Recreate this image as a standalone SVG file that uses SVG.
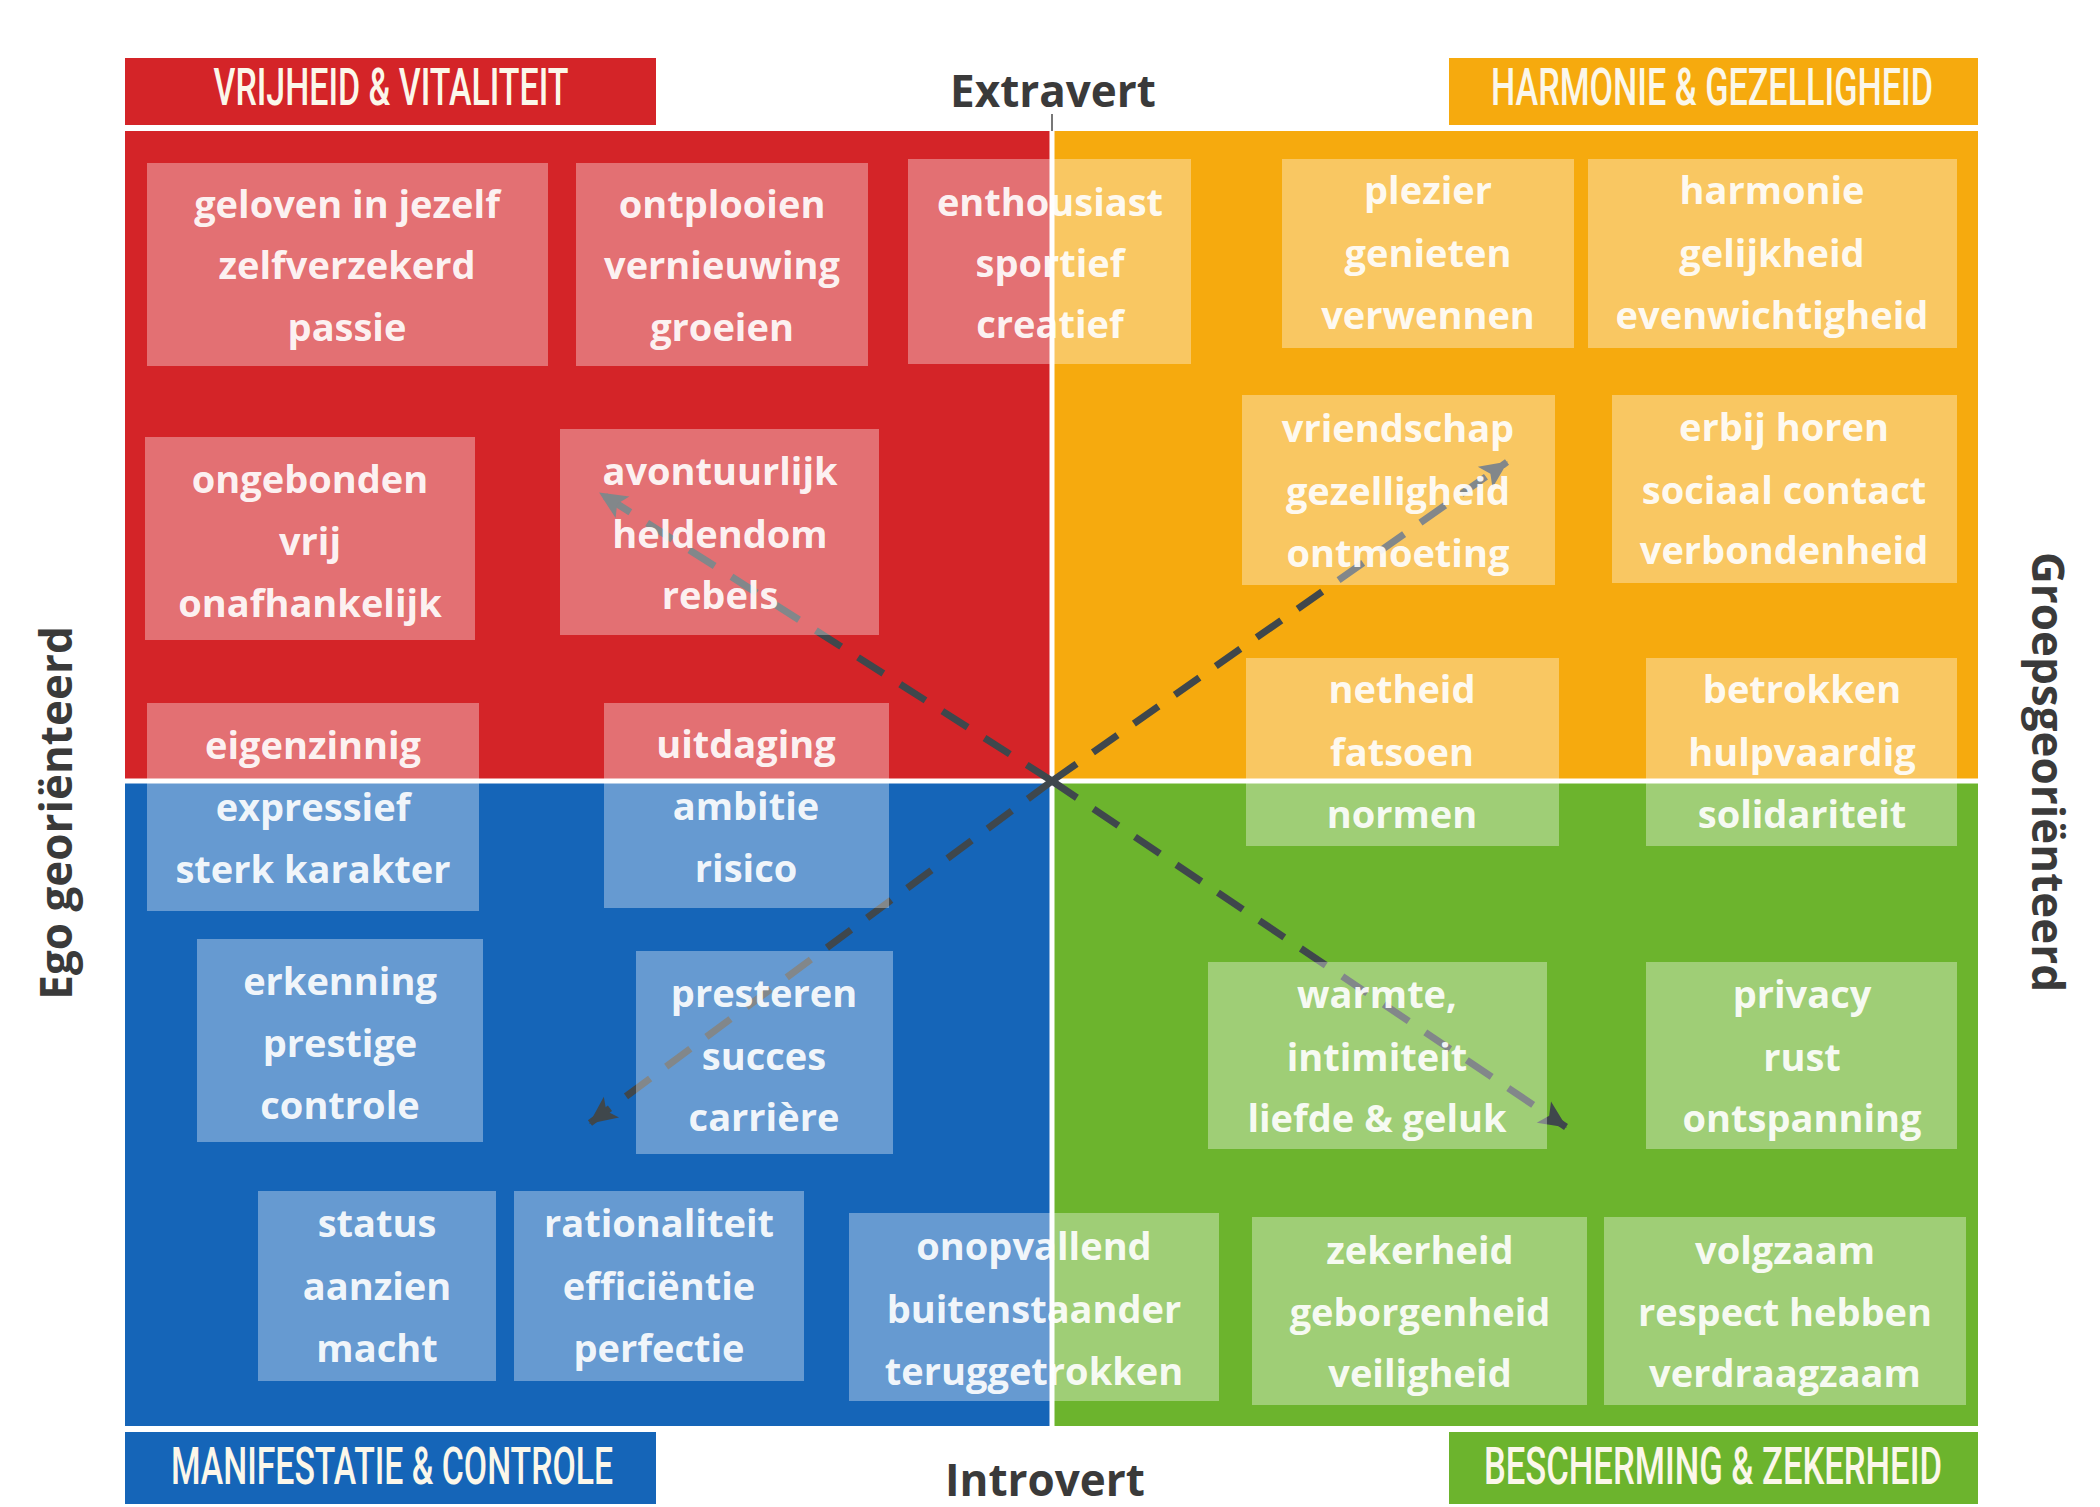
<svg xmlns="http://www.w3.org/2000/svg" width="2100" height="1507" viewBox="0 0 2100 1507">
<defs>
<style>
.bg{fill:#ffffff}
.red{fill:#d42428}
.org{fill:#f6aa0e}
.blu{fill:#1565b8}
.grn{fill:#6cb42d}
.box{fill:#ffffff;fill-opacity:0.35}
.nt{font-family:"Open Sans","Liberation Sans",sans-serif;font-weight:700;font-size:38px;fill:#ffffff;fill-opacity:0.93;text-anchor:middle}
.hd{font-family:Roboto,"Liberation Sans",sans-serif;font-weight:500;font-size:34px;fill:#fbf7ea;text-anchor:middle}
.ax{font-family:"Open Sans","Liberation Sans",sans-serif;font-weight:700;font-size:44px;fill:#3a3a3a;text-anchor:middle}
.ax2{font-family:"Open Sans","Liberation Sans",sans-serif;font-weight:700;font-size:44px;fill:#3a3a3a;text-anchor:middle}
.div{stroke:#ffffff;stroke-width:5;fill:none}
.arr{stroke:#3f474c;stroke-width:7;stroke-dasharray:30 20;fill:none;marker-end:url(#ah)}
</style>
<marker id="ah" viewBox="0 0 30 30" refX="27" refY="15" markerWidth="32" markerHeight="32" markerUnits="userSpaceOnUse" orient="auto">
<path d="M2,3 L28,15 L2,27 L8,15 Z" fill="#3f474c"/>
</marker>
</defs>
<rect class="bg" x="0" y="0" width="2100" height="1507"/>

<g id="quadrants">
<rect class="red" x="125" y="131" width="928" height="650"/>
<rect class="org" x="1053" y="131" width="925" height="650"/>
<rect class="blu" x="125" y="781" width="928" height="645"/>
<rect class="grn" x="1053" y="781" width="925" height="645"/>
<line class="div" x1="1052" y1="131" x2="1052" y2="1426"/>
<line class="div" x1="125" y1="781" x2="1978" y2="781"/>
<line x1="1052" y1="114" x2="1052" y2="131" stroke="#777" stroke-width="2"/>
</g>

<g id="header-vrijheid">
<rect class="red" x="125" y="58" width="531" height="67"/>
<text class="hd" transform="translate(391,105) scale(1,1.55)" x="0" y="0" textLength="355" lengthAdjust="spacingAndGlyphs">VRIJHEID &amp; VITALITEIT</text>
</g>
<g id="header-harmonie">
<rect class="org" x="1449" y="58" width="529" height="67"/>
<text class="hd" transform="translate(1712,105) scale(1,1.55)" x="0" y="0" textLength="442" lengthAdjust="spacingAndGlyphs">HARMONIE &amp; GEZELLIGHEID</text>
</g>
<g id="header-manifestatie">
<rect class="blu" x="125" y="1432" width="531" height="72"/>
<text class="hd" transform="translate(392,1484) scale(1,1.55)" x="0" y="0" textLength="442" lengthAdjust="spacingAndGlyphs">MANIFESTATIE &amp; CONTROLE</text>
</g>
<g id="header-bescherming">
<rect class="grn" x="1449" y="1432" width="529" height="72"/>
<text class="hd" transform="translate(1713,1484) scale(1,1.55)" x="0" y="0" textLength="458" lengthAdjust="spacingAndGlyphs">BESCHERMING &amp; ZEKERHEID</text>
</g>

<g id="axis-labels">
<text class="ax" x="1053" y="107">Extravert</text>
<text class="ax" x="1045" y="1496">Introvert</text>
<text class="ax2" transform="translate(72,813) rotate(-90)">Ego georiënteerd</text>
<text class="ax2" transform="translate(2032,772) rotate(90)">Groepsgeoriënteerd</text>
</g>

<g id="connectors">
<line class="arr" x1="1052" y1="781" x2="600" y2="493"/>
<line class="arr" x1="1052" y1="781" x2="1507" y2="462"/>
<line class="arr" x1="1052" y1="781" x2="590" y2="1123"/>
<line class="arr" x1="1052" y1="781" x2="1566" y2="1127"/>
</g>

<g id="n1"><rect class="box" x="147" y="163" width="401" height="203"/>
<text class="nt"><tspan x="347" y="218">geloven in jezelf</tspan><tspan x="347" y="279">zelfverzekerd</tspan><tspan x="347" y="341">passie</tspan></text></g>
<g id="n2"><rect class="box" x="576" y="163" width="292" height="203"/>
<text class="nt"><tspan x="722" y="218">ontplooien</tspan><tspan x="722" y="279">vernieuwing</tspan><tspan x="722" y="341">groeien</tspan></text></g>
<g id="n3"><rect class="box" x="908" y="159" width="283" height="205"/>
<text class="nt"><tspan x="1050" y="216">enthousiast</tspan><tspan x="1050" y="277">sportief</tspan><tspan x="1050" y="338">creatief</tspan></text></g>
<g id="n4"><rect class="box" x="145" y="437" width="330" height="203"/>
<text class="nt"><tspan x="310" y="493">ongebonden</tspan><tspan x="310" y="555">vrij</tspan><tspan x="310" y="617">onafhankelijk</tspan></text></g>
<g id="n5"><rect class="box" x="560" y="429" width="319" height="206"/>
<text class="nt"><tspan x="720" y="485">avontuurlijk</tspan><tspan x="720" y="548">heldendom</tspan><tspan x="720" y="609">rebels</tspan></text></g>
<g id="n6"><rect class="box" x="147" y="703" width="332" height="208"/>
<text class="nt"><tspan x="313" y="759">eigenzinnig</tspan><tspan x="313" y="821">expressief</tspan><tspan x="313" y="883">sterk karakter</tspan></text></g>
<g id="n7"><rect class="box" x="604" y="703" width="285" height="205"/>
<text class="nt"><tspan x="746" y="758">uitdaging</tspan><tspan x="746" y="820">ambitie</tspan><tspan x="746" y="882">risico</tspan></text></g>
<g id="n8"><rect class="box" x="197" y="939" width="286" height="203"/>
<text class="nt"><tspan x="340" y="995">erkenning</tspan><tspan x="340" y="1057">prestige</tspan><tspan x="340" y="1119">controle</tspan></text></g>
<g id="n9"><rect class="box" x="636" y="951" width="257" height="203"/>
<text class="nt"><tspan x="764" y="1007">presteren</tspan><tspan x="764" y="1070">succes</tspan><tspan x="764" y="1131">carrière</tspan></text></g>
<g id="n10"><rect class="box" x="258" y="1191" width="238" height="190"/>
<text class="nt"><tspan x="377" y="1237">status</tspan><tspan x="377" y="1300">aanzien</tspan><tspan x="377" y="1362">macht</tspan></text></g>
<g id="n11"><rect class="box" x="514" y="1191" width="290" height="190"/>
<text class="nt"><tspan x="659" y="1237">rationaliteit</tspan><tspan x="659" y="1300">efficiëntie</tspan><tspan x="659" y="1362">perfectie</tspan></text></g>
<g id="n12"><rect class="box" x="849" y="1213" width="370" height="188"/>
<text class="nt"><tspan x="1034" y="1260">onopvallend</tspan><tspan x="1034" y="1323">buitenstaander</tspan><tspan x="1034" y="1385">teruggetrokken</tspan></text></g>
<g id="n13"><rect class="box" x="1282" y="159" width="292" height="189"/>
<text class="nt"><tspan x="1428" y="204">plezier</tspan><tspan x="1428" y="267">genieten</tspan><tspan x="1428" y="329">verwennen</tspan></text></g>
<g id="n14"><rect class="box" x="1588" y="159" width="369" height="189"/>
<text class="nt"><tspan x="1772" y="204">harmonie</tspan><tspan x="1772" y="267">gelijkheid</tspan><tspan x="1772" y="329">evenwichtigheid</tspan></text></g>
<g id="n15"><rect class="box" x="1242" y="395" width="313" height="190"/>
<text class="nt"><tspan x="1398" y="442">vriendschap</tspan><tspan x="1398" y="505">gezelligheid</tspan><tspan x="1398" y="567">ontmoeting</tspan></text></g>
<g id="n16"><rect class="box" x="1612" y="395" width="345" height="188"/>
<text class="nt"><tspan x="1784" y="441">erbij horen</tspan><tspan x="1784" y="504">sociaal contact</tspan><tspan x="1784" y="564">verbondenheid</tspan></text></g>
<g id="n17"><rect class="box" x="1246" y="658" width="313" height="188"/>
<text class="nt"><tspan x="1402" y="703">netheid</tspan><tspan x="1402" y="766">fatsoen</tspan><tspan x="1402" y="828">normen</tspan></text></g>
<g id="n18"><rect class="box" x="1646" y="658" width="311" height="188"/>
<text class="nt"><tspan x="1802" y="703">betrokken</tspan><tspan x="1802" y="766">hulpvaardig</tspan><tspan x="1802" y="828">solidariteit</tspan></text></g>
<g id="n19"><rect class="box" x="1208" y="962" width="339" height="187"/>
<text class="nt"><tspan x="1377" y="1008">warmte,</tspan><tspan x="1377" y="1071">intimiteit</tspan><tspan x="1377" y="1132">liefde &amp; geluk</tspan></text></g>
<g id="n20"><rect class="box" x="1646" y="962" width="311" height="187"/>
<text class="nt"><tspan x="1802" y="1008">privacy</tspan><tspan x="1802" y="1071">rust</tspan><tspan x="1802" y="1132">ontspanning</tspan></text></g>
<g id="n21"><rect class="box" x="1252" y="1217" width="335" height="188"/>
<text class="nt"><tspan x="1420" y="1264">zekerheid</tspan><tspan x="1420" y="1326">geborgenheid</tspan><tspan x="1420" y="1387">veiligheid</tspan></text></g>
<g id="n22"><rect class="box" x="1604" y="1217" width="362" height="188"/>
<text class="nt"><tspan x="1785" y="1264">volgzaam</tspan><tspan x="1785" y="1326">respect hebben</tspan><tspan x="1785" y="1387">verdraagzaam</tspan></text></g>
</svg>
